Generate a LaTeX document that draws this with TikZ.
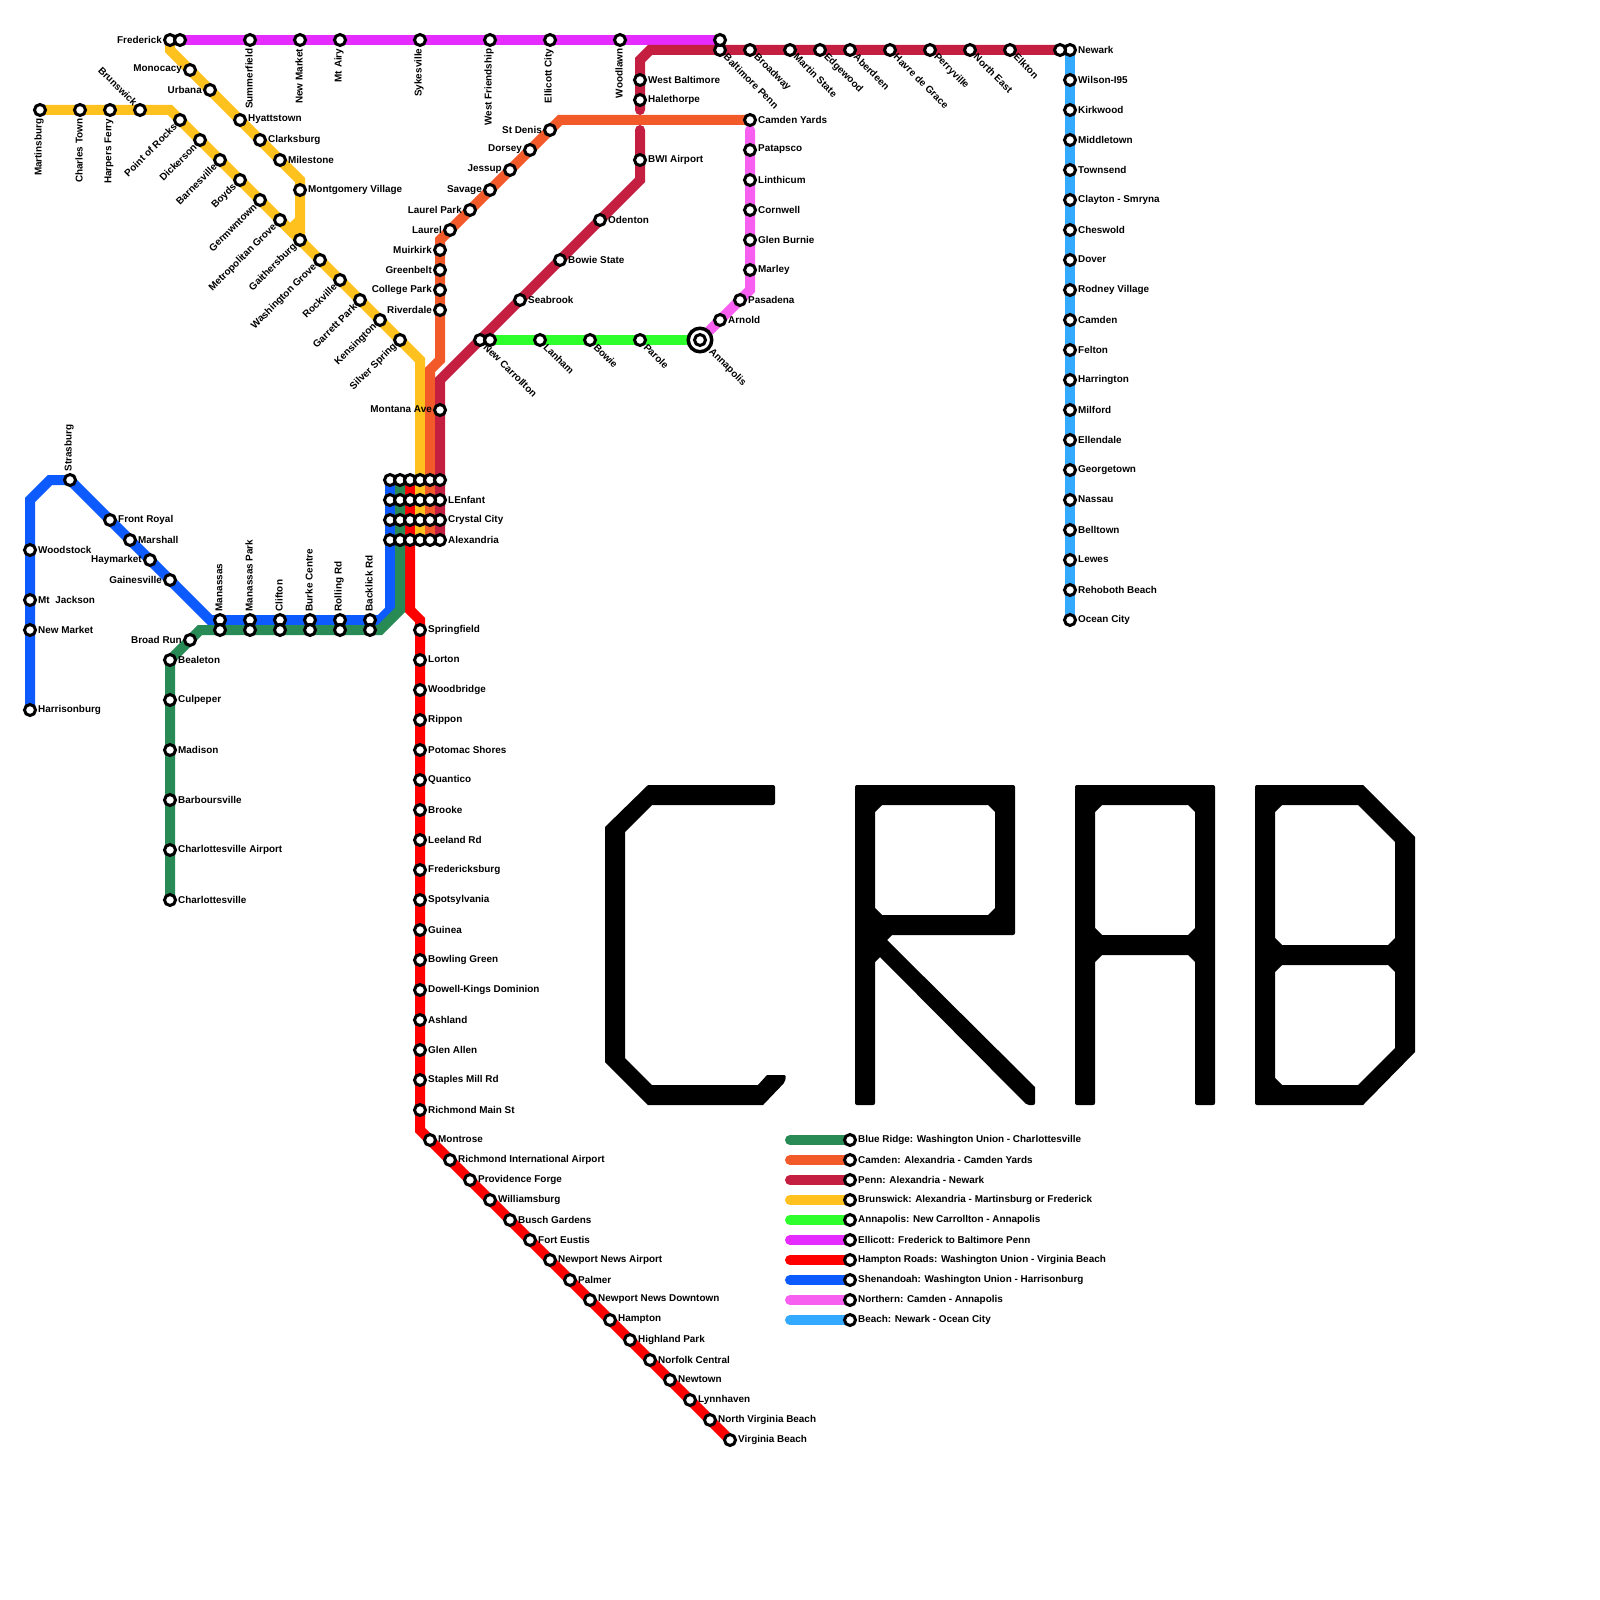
\documentclass[tikz,border=0pt]{standalone}
\usepackage{fontspec}
\setmainfont{Liberation Sans}
\usetikzlibrary{backgrounds}
\definecolor{ridge}{RGB}{40,138,84}
\definecolor{camden}{RGB}{243,90,41}
\definecolor{penn}{RGB}{196,30,64}
\definecolor{brunswick}{RGB}{255,193,30}
\definecolor{annapolis}{RGB}{45,255,45}
\definecolor{ellicott}{RGB}{229,43,255}
\definecolor{hampton}{RGB}{255,0,0}
\definecolor{shenandoah}{RGB}{13,91,255}
\definecolor{northern}{RGB}{246,95,240}
\definecolor{beach}{RGB}{51,170,255}
\tikzset{
  stn/.style={circle,draw=black,fill=white,line width=.3mm,minimum size=1.1mm,inner sep=0pt},
  stnring/.style={circle,draw=black,fill=white,line width=.35mm,minimum size=2.35mm,inner sep=0pt},
  lbl/.style={inner sep=0pt,font=\fontsize{2.82pt}{3.4pt}\selectfont\bfseries,yshift=.04mm},
  lblE/.style={lbl,anchor=west,xshift=.75mm},
  lblW/.style={lbl,anchor=east,xshift=-.75mm},
  lblN/.style={lbl,yshift=.76mm,xshift=-.1mm,rotate=90,anchor=west},
  lblS/.style={lbl,yshift=-.84mm,xshift=-.1mm,rotate=90,anchor=east},
  lblSW/.style={lbl,xshift=-.45mm,yshift=-.54mm,rotate=45,anchor=east},
  lblNW/.style={lbl,xshift=-.4mm,yshift=.5mm,rotate=-45,anchor=east},
  lblSE/.style={lbl,xshift=.5mm,yshift=-.54mm,rotate=-45,anchor=west},
  metro/.style={line width=1mm,line cap=round,line join=miter},
}
\newcommand{\stops}[2]{%
  \foreach \nm/\x/\y/\lab in {#2} {
    \node[stn] (\nm) at (\x,\y) {};
    \node[#1] (\nm-t) at (\nm) {\lab};
  }
}
\begin{document}
\begin{tikzpicture}[x=1mm,y=-1mm]
  \useasboundingbox (0,0) rectangle (160,160);
  \node[stnring] (annapolis-ring) at (70,34) {};
  \stops{lblW}{frederick/17/4/Frederick, monocacy/19/7/Monocacy, urbana/21/9/Urbana,
    stdenis/55/13/St Denis, dorsey/53/15/Dorsey, jessup/51/17/Jessup, savage/49/19/Savage,
    laurelpark/47/21/Laurel Park, laurel/45/23/Laurel, muirkirk/44/25/Muirkirk,
    greenbelt/44/27/Greenbelt, collegepark/44/29/College Park, riverdale/44/31/Riverdale,
    montana/44/41/Montana Ave, haymarket/15/56/Haymarket, gainesville/17/58/Gainesville,
    broadrun/19/64/Broad Run}
  \stops{lblE}{hyattstown/24/12/Hyattstown, clarksburg/26/14/Clarksburg, milestone/28/16/Milestone,
    montgomery/30/19/Montgomery Village, westbalt/64/8/West Baltimore, halethorpe/64/10/Halethorpe,
    bwi/64/16/BWI Airport, odenton/60/22/Odenton, bowiestate/56/26/Bowie State, seabrook/52/30/Seabrook,
    camdenyards/75/12/Camden Yards, patapsco/75/15/Patapsco, linthicum/75/18/Linthicum,
    cornwell/75/21/Cornwell, glenburnie/75/24/Glen Burnie, marley/75/27/Marley,
    pasadena/74/30/Pasadena, arnold/72/32/Arnold, lenfant/44/50/LEnfant, crystal/44/52/Crystal City,
    alexandria/44/54/Alexandria, frontroyal/11/52/Front Royal, marshall/13/54/Marshall,
    woodstock/3/55/Woodstock, mtjackson/3/60/Mt\ \ Jackson, newmarketb/3/63/New Market,
    harrisonburg/3/71/Harrisonburg, bealeton/17/66/Bealeton, culpeper/17/70/Culpeper,
    madison/17/75/Madison, barboursville/17/80/Barboursville, cvilleair/17/85/Charlottesville Airport,
    cville/17/90/Charlottesville}
  \stops{lblE}{newark/107/5/Newark, wilson/107/8/Wilson-I95, kirkwood/107/11/Kirkwood,
    middletown/107/14/Middletown, townsend/107/17/Townsend, clayton/107/20/Clayton - Smryna,
    cheswold/107/23/Cheswold, dover/107/26/Dover, rodney/107/29/Rodney Village, camdenb/107/32/Camden,
    felton/107/35/Felton, harrington/107/38/Harrington, milford/107/41/Milford, ellendale/107/44/Ellendale,
    georgetown/107/47/Georgetown, nassau/107/50/Nassau, belltown/107/53/Belltown, lewes/107/56/Lewes,
    rehoboth/107/59/Rehoboth Beach, oceancity/107/62/Ocean City}
  \stops{lblE}{springfield/42/63/Springfield, lorton/42/66/Lorton, woodbridge/42/69/Woodbridge,
    rippon/42/72/Rippon, potomac/42/75/Potomac Shores, quantico/42/78/Quantico, brooke/42/81/Brooke,
    leeland/42/84/Leeland Rd, fredericksburg/42/87/Fredericksburg, spotsylvania/42/90/Spotsylvania,
    guinea/42/93/Guinea, bowling/42/96/Bowling Green, dowell/42/99/Dowell-Kings Dominion,
    ashland/42/102/Ashland, glenallen/42/105/Glen Allen, staples/42/108/Staples Mill Rd,
    richmond/42/111/Richmond Main St, montrose/43/114/Montrose,
    richmondair/45/116/Richmond International Airport, providence/47/118/Providence Forge,
    williamsburg/49/120/Williamsburg, busch/51/122/Busch Gardens, fteustis/53/124/Fort Eustis,
    nnair/55/126/Newport News Airport, palmer/57/128/Palmer, nndown/59/130/Newport News Downtown,
    hamptonst/61/132/Hampton, highland/63/134/Highland Park, norfolk/65/136/Norfolk Central,
    newtown/67/138/Newtown, lynnhaven/69/140/Lynnhaven, northvb/71/142/North Virginia Beach,
    vabeach/73/144/Virginia Beach}
  \stops{lblN}{strasburg/7/48/Strasburg, manassas/22/62/Manassas, manassaspk/25/62/Manassas Park,
    clifton/28/62/Clifton, burke/31/62/Burke Centre, rolling/34/62/Rolling Rd, backlick/37/62/Backlick Rd}
  \stops{lblS}{summerfield/25/4/Summerfield, newmarket/30/4/New Market, mtairy/34/4/Mt Airy,
    sykesville/42/4/Sykesville, westfriend/49/4/West Friendship, ellicottcity/55/4/Ellicott City,
    woodlawn/62/4/Woodlawn, martinsburg/4/11/Martinsburg, charlestown/8/11/Charles Town,
    harpers/11/11/Harpers Ferry}
  \stops{lblNW}{brunswickst/14/11/Brunswick}
  \stops{lblSW}{pointrocks/18/12/Point of Rocks, dickerson/20/14/Dickerson, barnesville/22/16/Barnesville,
    boyds/24/18/Boyds, germwntown/26/20/Germwntown, metrogrove/28/22/Metropolitan Grove,
    gaithersburg/30/24/Gaithersburg, washgrove/32/26/Washington Grove, rockville/34/28/Rockville,
    garrett/36/30/Garrett Park, kensington/38/32/Kensington, silver/40/34/Silver Spring}
  \stops{lblSE}{balpenn/72/5/Baltimore Penn, broadway/75/5/Broadway, martinstate/79/5/Martin State,
    edgewood/82/5/Edgewood, aberdeen/85/5/Aberdeen, havre/89/5/Havre de Grace, perryville/93/5/Perryville,
    northeast/97/5/North East, elkton/101/5/Elkton, newcarrollton/48/34/New Carrollton, lanham/54/34/Lanham,
    bowie/59/34/Bowie, parole/64/34/Parole}
  \stops{xshift=.5mm,yshift=-.5mm,lblSE}{annapolisst/70/34/Annapolis}
  \foreach \nm/\x/\y in {ellicottw/18/4, ellicotte/72/4, newarkw/106/5, newcarrolltone/49/34} {
    \node[stn] (\nm) at (\x,\y) {};
  }
  \foreach \x in {22,25,28,31,34,37} {
    \node[stn] (ridge\x) at (\x,63) {};
  }
  \foreach \y in {48,50,52,54} {
    \foreach \x in {39,40,41,42,43} {
      \node[stn] (u\x-\y) at (\x,\y) {};
    }
  }
  \node[stn] (u44-48) at (44,48) {};
  \foreach \nm/\x/\y in {bfa/42/36, bfb/17/11, bfc/17/5, bfd/30/18, bfe/30/22, bff/29/23,
      cma/43/37, cmb/44/36, cmc/44/24, cmd/56/12, pna/44/38, pnb/64/18, pnc/64/13, pnd/64/11,
      pne/64/6, pnf/65/5, hra/41/61, hrb/42/62, hrc/42/113, sha/39/61, shb/38/62, shc/21/62,
      shd/7/48, she/5/48, shf/3/50, bra/40/61, brb/38/63, brc/20/63, nra/75/13, nrb/75/29, nrc/71/33} {
    \coordinate (\nm) at (\x,\y);
  }
  \begin{pgfonlayer}{background}
    \draw[metro,beach] (newark.center) -- (oceancity.center);
    \draw[metro,northern] (nra) -- (nrb) -- (nrc);
    \draw[metro,shenandoah] (u39-48.center) -- (sha) -- (shb) -- (shc) -- (shd) -- (she) -- (shf) -- (harrisonburg.center);
    \draw[metro,hampton] (u41-48.center) -- (hra) -- (hrb) -- (hrc) -- (vabeach.center);
    \draw[metro,ridge] (u40-48.center) -- (bra) -- (brb) -- (brc) -- (bealeton.center) -- (cville.center);
    \draw[metro,brunswick] (u42-54.center) -- (bfa) -- (bfb) -- (martinsburg.center);
    \draw[metro,brunswick] (frederick.center) -- (bfc) -- (bfd) -- (gaithersburg.center);
    \draw[metro,brunswick] (metrogrove.center) -- (bff) -- (bfe);
    \draw[metro,ellicott] (ellicottw.center) -- (ellicotte.center);
    \draw[metro,annapolis] (newcarrolltone.center) -- (annapolis-ring.center);
    \draw[metro,camden] (u43-54.center) -- (cma) -- (cmb) -- (cmc) -- (cmd) -- (camdenyards.center);
    \draw[metro,penn] (alexandria.center) -- (pna) -- (pnb) -- (pnc);
    \draw[metro,penn] (pnd) -- (pne) -- (pnf) -- (newarkw.center);
  \end{pgfonlayer}
  \foreach \col/\y/\lab in {ridge/114/Blue Ridge: Washington Union - Charlottesville,
      camden/116/Camden: Alexandria - Camden Yards, penn/118/Penn: Alexandria - Newark,
      brunswick/120/Brunswick: Alexandria - Martinsburg or Frederick,
      annapolis/122/Annapolis: New Carrollton - Annapolis, ellicott/124/Ellicott: Frederick to Baltimore Penn,
      hampton/126/Hampton Roads: Washington Union - Virginia Beach,
      shenandoah/128/Shenandoah: Washington Union - Harrisonburg,
      northern/130/Northern: Camden - Annapolis, beach/132/Beach: Newark - Ocean City} {
    \coordinate (key\y) at (79,\y);
    \node[stn] (keystn\y) at (85,\y) {};
    \node[lblE] (keystn\y-t) at (keystn\y) {\lab};
    \begin{pgfonlayer}{background}
      \draw[metro,\col] (key\y) -- (keystn\y.center);
    \end{pgfonlayer}
  }
  \fill (77.3,78.5) [rounded corners=.2mm] -- (77.5,78.5) -- (77.5,80.5) [sharp corners] -- (65.2,80.5)
    -- (62.5,83.2) -- (62.5,105.8) -- (65.2,108.5) -- (75.8,108.5) -- (76.7,107.5) [rounded corners=.2mm]
    -- (78.6,107.5) -- (78.5,108.2) [sharp corners] -- (76.3,110.5) -- (64.8,110.5) -- (60.5,106.2)
    -- (60.5,82.7) -- (64.8,78.5) -- cycle;
  \fill[even odd rule] (87,78.5) [rounded corners=.2mm] -- (101.5,78.5) -- (101.5,93.5) [sharp corners] -- (89.2,93.5)
    -- (88.7,94) -- (103.5,108.7) [rounded corners=.2mm] -- (103.5,110.5) -- (102.7,110.5) [sharp corners] -- (88,95.7)
    -- (87.5,96.2) [rounded corners=.2mm] -- (87.5,110.5) -- (85.5,110.5) -- (85.5,78.5) -- (87,78.5) [sharp corners]
    (87.5,81.2) -- (88.2,80.5) -- (98.8,80.5) -- (99.5,81.2) -- (99.5,90.8) -- (98.8,91.5)
    -- (88.2,91.5) -- (87.5,90.8) -- cycle;
  \fill[even odd rule] (109,78.5) [rounded corners=.2mm] -- (121.5,78.5) -- (121.5,110.5) -- (119.5,110.5) [sharp corners]
    -- (119.5,96.2) -- (118.8,95.5) -- (110.2,95.5) -- (109.5,96.2) [rounded corners=.2mm] -- (109.5,110.5)
    -- (107.5,110.5) -- (107.5,78.5) -- (109,78.5) [sharp corners]
    (109.5,81.2) -- (110.2,80.5) -- (118.8,80.5) -- (119.5,81.2) -- (119.5,92.8) -- (118.8,93.5)
    -- (110.2,93.5) -- (109.5,92.8) -- cycle;
  \fill[even odd rule] (130,110.5) [rounded corners=.2mm] -- (125.5,110.5) -- (125.5,78.5) [sharp corners] -- (136.3,78.5)
    -- (141.5,83.7) -- (141.5,105.2) -- (136.3,110.5) -- (130,110.5)
    (127.5,81.2) -- (128.2,80.5) -- (135.8,80.5) -- (139.5,84.2) -- (139.5,93.8) -- (138.8,94.5)
    -- (128.2,94.5) -- (127.5,93.8) -- cycle
    (127.5,97.2) -- (128.2,96.5) -- (138.8,96.5) -- (139.5,97.2) -- (139.5,104.8) -- (135.8,108.5)
    -- (128.2,108.5) -- (127.5,107.8) -- cycle;
\end{tikzpicture}
\end{document}
